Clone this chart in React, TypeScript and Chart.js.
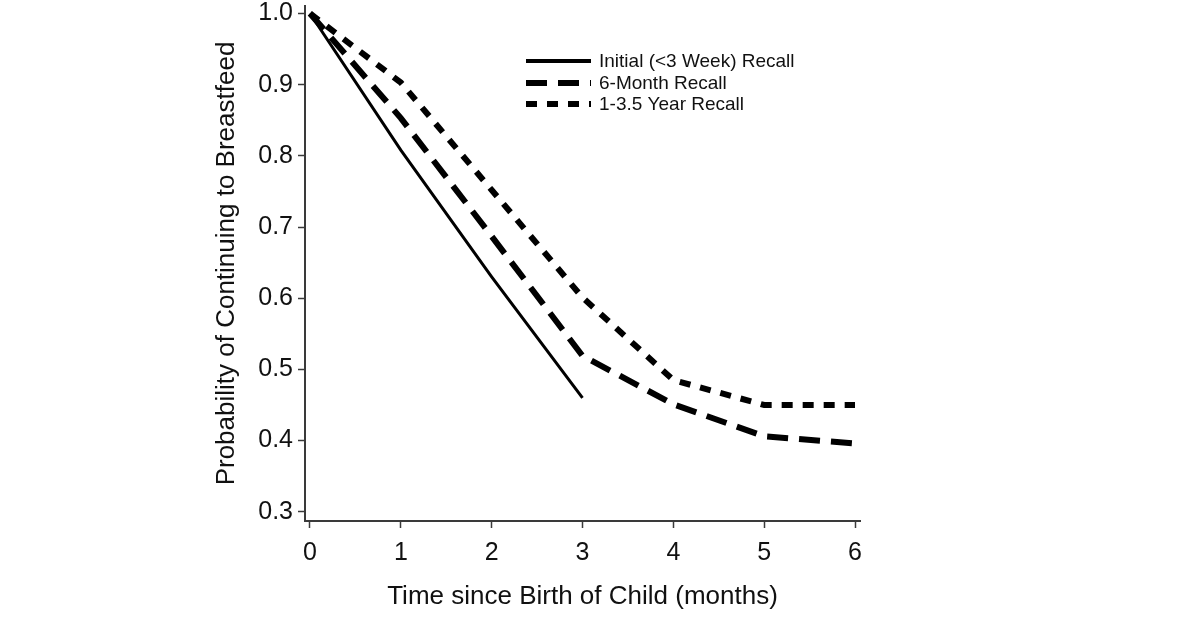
import React, { useEffect, useRef } from "react";
import { Chart, registerables } from "chart.js";

Chart.register(...registerables);

// ---- data ----
const months = [0, 1, 2, 3, 4, 5, 6];
const initialRecall = [1.0, 0.808, 0.63, 0.46];
const sixMonthRecall = [1.0, 0.853, 0.687, 0.519, 0.451, 0.406, 0.396];
const yearRecall = [1.0, 0.903, 0.752, 0.601, 0.485, 0.45, 0.45];

const seriesNames = ["Initial (<3 Week) Recall", "6-Month Recall", "1-3.5 Year Recall"];
const xTickValues = [0, 1, 2, 3, 4, 5, 6];
const yTickValues = [0.3, 0.4, 0.5, 0.6, 0.7, 0.8, 0.9, 1.0];
const xTitle = "Time since Birth of Child (months)";
const yTitle = "Probability of Continuing to Breastfeed";

// ---- styles ----
const FONT = "Arial, 'Liberation Sans', Helvetica, sans-serif";
const AXIS_COLOR = "#3a3a3a";
const seriesStyles = [
  { width: 3, dash: [] as number[], legendWidth: 4 },
  { width: 6, dash: [21, 11], legendWidth: 6 },
  { width: 6, dash: [11, 10], legendWidth: 6 },
];

const toPoints = (vals: number[]) => vals.map((v, i) => ({ x: months[i], y: v }));

const legendPlugin = {
  id: "customLegend",
  afterDraw(chart: any) {
    const ctx = chart.ctx as CanvasRenderingContext2D;
    const lineX0 = 526;
    const lineX1 = 591;
    const textX = 599;
    const rowY = [61, 83, 104];
    ctx.save();
    seriesNames.forEach((name, i) => {
      const st = seriesStyles[i];
      ctx.beginPath();
      ctx.setLineDash(st.dash);
      ctx.lineWidth = st.legendWidth;
      ctx.lineCap = "butt";
      ctx.strokeStyle = "#000";
      ctx.moveTo(lineX0, rowY[i]);
      ctx.lineTo(lineX1, rowY[i]);
      ctx.stroke();
      ctx.setLineDash([]);
      ctx.fillStyle = "#111";
      ctx.font = `19px ${FONT}`;
      ctx.textBaseline = "middle";
      ctx.textAlign = "left";
      ctx.fillText(name, textX, rowY[i] + 1);
    });
    ctx.restore();
  },
};

export default function App() {
  const canvasRef = useRef<HTMLCanvasElement | null>(null);

  useEffect(() => {
    if (!canvasRef.current) return;
    const allSeries = [initialRecall, sixMonthRecall, yearRecall];
    const chart = new Chart(canvasRef.current, {
      type: "line",
      data: {
        datasets: allSeries.map((vals, i) => ({
          label: seriesNames[i],
          data: toPoints(vals),
          borderColor: "#000",
          backgroundColor: "#000",
          borderWidth: seriesStyles[i].width,
          borderDash: seriesStyles[i].dash,
          borderCapStyle: "butt",
          borderJoinStyle: "miter",
          pointRadius: 0,
          tension: 0,
          fill: false,
        })),
      },
      options: {
        animation: false,
        responsive: false,
        devicePixelRatio: 1,
        layout: { padding: { left: 207, right: 340, top: 6, bottom: 14 } },
        plugins: { legend: { display: false }, tooltip: { enabled: false } },
        scales: {
          x: {
            type: "linear",
            min: -0.055,
            max: 6.055,
            afterBuildTicks: (scale: any) => {
              scale.ticks = xTickValues.map((v) => ({ value: v }));
            },
            afterFit: (scale: any) => {
              scale.height = 94;
              scale.paddingLeft = 0;
              scale.paddingRight = 0;
            },
            grid: {
              display: true,
              drawOnChartArea: false,
              drawTicks: true,
              tickLength: 7,
              tickWidth: 1.5,
              color: AXIS_COLOR,
            },
            border: { display: true, color: AXIS_COLOR, width: 2 },
            ticks: {
              color: "#111",
              font: { family: FONT, size: 25 },
              padding: 10,
              maxRotation: 0,
              callback: (v: any) => String(v),
            },
            title: {
              display: true,
              text: xTitle,
              color: "#111",
              font: { family: FONT, size: 26 },
              padding: { top: 4, bottom: 3 },
            },
          },
          y: {
            type: "linear",
            min: 0.287,
            max: 1.0105,
            afterBuildTicks: (scale: any) => {
              scale.ticks = yTickValues.map((v) => ({ value: v }));
            },
            afterFit: (scale: any) => {
              scale.width = 98;
              scale.paddingTop = 0;
              scale.paddingBottom = 0;
            },
            grid: {
              display: true,
              drawOnChartArea: false,
              drawTicks: true,
              tickLength: 7,
              tickWidth: 1.5,
              color: AXIS_COLOR,
            },
            border: { display: true, color: AXIS_COLOR, width: 2 },
            ticks: {
              color: "#111",
              font: { family: FONT, size: 25 },
              padding: 5,
              callback: (v: any) => Number(v).toFixed(1),
            },
            title: {
              display: true,
              text: yTitle,
              color: "#111",
              font: { family: FONT, size: 26 },
              padding: { top: 4, bottom: 4 },
            },
          },
        },
      },
      plugins: [legendPlugin],
    });
    return () => chart.destroy();
  }, []);

  return (
    <div style={{ position: "absolute", left: 0, top: 0, width: 1200, height: 629, background: "#fff" }}>
      <canvas ref={canvasRef} width={1200} height={629} style={{ width: 1200, height: 629 }} />
    </div>
  );
}
